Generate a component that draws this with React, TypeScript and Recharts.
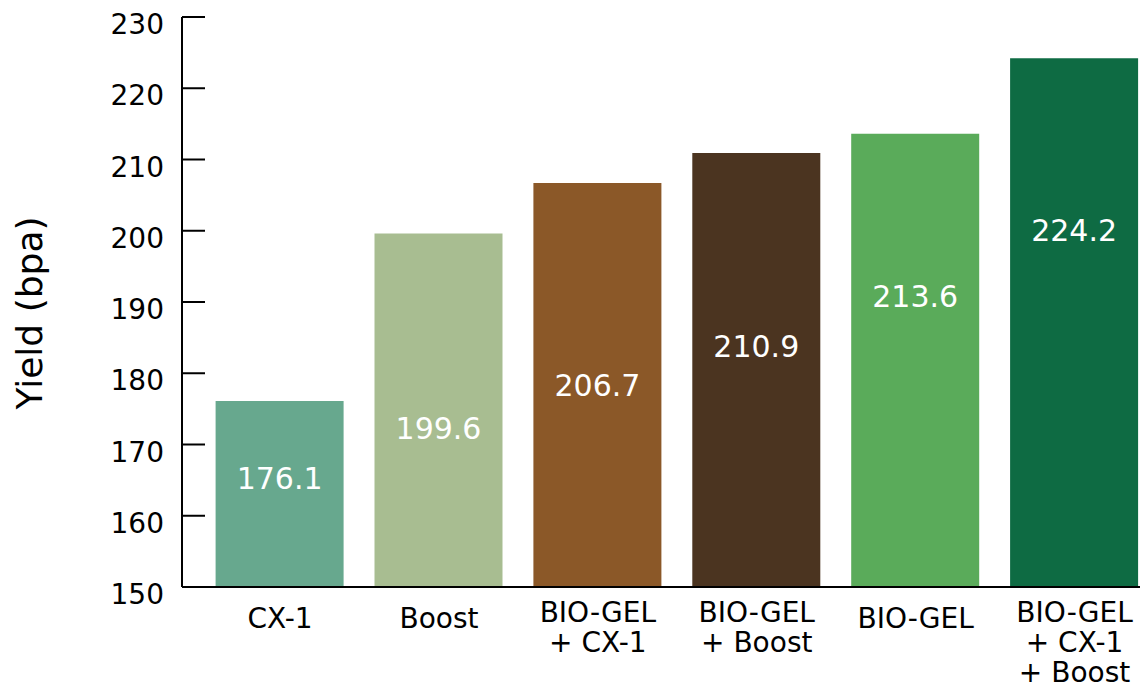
import { BarChart, Bar, XAxis, YAxis, Cell, LabelList, Label } from 'recharts';

const categories = [
  'CX-1',
  'Boost',
  'BIO-GEL\n+ CX-1',
  'BIO-GEL\n+ Boost',
  'BIO-GEL',
  'BIO-GEL\n+ CX-1\n+ Boost',
];
const yieldValues = [176.1, 199.6, 206.7, 210.9, 213.6, 224.2];
const yTicks = [150, 160, 170, 180, 190, 200, 210, 220, 230];

const barColors = ['#67a88e', '#a8bd91', '#8b5828', '#4b3420', '#5aab5a', '#0e6b43'];
// how far below the bar top each value label sits (px)
const labelDrop = [77, 194, 202, 193, 162, 172];

const FONT = '"DejaVu Sans", sans-serif';

const data = categories.map((name, i) => ({ name, value: yieldValues[i] }));

const YTick = (props: any) => {
  const { x, y, payload } = props;
  return (
    <g>
      <line x1={x + 18} x2={x + 41} y1={y} y2={y} stroke="#000" strokeWidth={2} />
      <text x={x} y={y + 17} textAnchor="end" fontSize={28} fill="#000" fontFamily={FONT}>
        {payload.value}
      </text>
    </g>
  );
};

const XTick = (props: any) => {
  const { x, y, payload } = props;
  const lines = String(payload.value).split('\n');
  const first = lines.length === 1 ? 41 : 35;
  return (
    <text textAnchor="middle" fontSize={28} fill="#000" fontFamily={FONT}>
      {lines.map((line, i) => (
        <tspan key={i} x={x} y={y + first + i * 30}>
          {line}
        </tspan>
      ))}
    </text>
  );
};

const ValueLabel = (props: any) => {
  const { x, y, width, value, index } = props;
  return (
    <text
      x={x + width / 2}
      y={y + labelDrop[index] + 11}
      textAnchor="middle"
      fontSize={30}
      fill="#fff"
      fontFamily={FONT}
    >
      {value}
    </text>
  );
};

const YTitle = (props: any) => {
  const { viewBox } = props;
  const cy = viewBox.y + viewBox.height / 2 + 11;
  return (
    <text
      x={42}
      y={cy}
      transform={`rotate(-90, 42, ${cy})`}
      textAnchor="middle"
      fontSize={36}
      fill="#000"
      fontFamily={FONT}
    >
      Yield (bpa)
    </text>
  );
};

export default function App() {
  return (
    <div style={{ position: 'absolute', left: 0, top: 0, width: 1140, height: 688, overflow: 'hidden', background: '#fff' }}>
      <BarChart
        width={1154}
        height={688}
        data={data}
        margin={{ top: 17, right: 0, bottom: 0, left: 0 }}
      >
        <XAxis
          dataKey="name"
          height={101}
          padding={{ left: 18.6, right: 0 }}
          tickLine={false}
          tickSize={0}
          tickMargin={0}
          axisLine={{ stroke: '#000', strokeWidth: 2 }}
          tick={<XTick />}
          interval={0}
        />
        <YAxis
          width={182}
          domain={[150, 230]}
          ticks={yTicks}
          allowDataOverflow
          tickLine={false}
          tickSize={0}
          tickMargin={18}
          axisLine={{ stroke: '#000', strokeWidth: 2 }}
          tick={<YTick />}
        >
          <Label content={<YTitle />} />
        </YAxis>
        <Bar dataKey="value" barSize={128} isAnimationActive={false}>
          {data.map((d, i) => (
            <Cell key={d.name} fill={barColors[i]} />
          ))}
          <LabelList dataKey="value" content={<ValueLabel />} />
        </Bar>
      </BarChart>
    </div>
  );
}
